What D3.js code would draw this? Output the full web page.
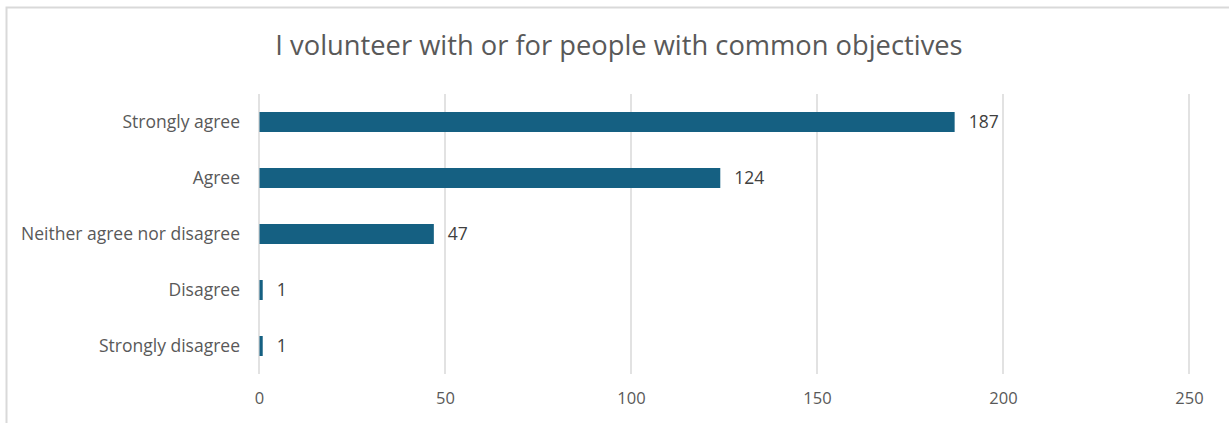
<!DOCTYPE html>
<html>
<head>
<meta charset="utf-8">
<script src="https://cdn.jsdelivr.net/npm/d3@7"></script>
<style>
  html, body { margin: 0; padding: 0; background: #fff; }
  svg { display: block; font-family: "Open Sans", "Noto Sans", sans-serif; }
</style>
</head>
<body>
<svg id="chart" width="1229" height="423"></svg>
<script>
const title = "I volunteer with or for people with common objectives";
const categories = ["Strongly agree", "Agree", "Neither agree nor disagree", "Disagree", "Strongly disagree"];
const counts = [187, 124, 47, 1, 1];
const tickValues = [0, 50, 100, 150, 200, 250];

const svg = d3.select("#chart");
const fontStack = "\"Open Sans\", \"Noto Sans\", sans-serif";

// chart frame (extends past the right and bottom edges)
svg.append("rect")
  .attr("x", 6.5).attr("y", 7.5)
  .attr("width", 1240).attr("height", 440)
  .attr("fill", "#fff").attr("stroke", "#d9d9d9").attr("stroke-width", 2);

svg.append("text")
  .attr("x", 619).attr("y", 55)
  .attr("text-anchor", "middle")
  .attr("font-size", 27.3)
  .attr("fill", "#595959")
  .text(title);

const x = d3.scaleLinear().domain([0, 250]).range([259, 1189]);
const y = d3.scaleBand().domain(categories).range([94, 374]).paddingInner(0.643).paddingOuter(0.3215);

// vertical gridlines
svg.append("g")
  .selectAll("line")
  .data(tickValues)
  .join("line")
  .attr("x1", d => x(d)).attr("x2", d => x(d))
  .attr("y1", 94).attr("y2", 374)
  .attr("stroke", "#d9d9d9").attr("stroke-width", 1.5);

// x axis labels
const xAxis = d3.axisBottom(x).tickValues(tickValues).tickSize(0).tickPadding(0);
const gx = svg.append("g").attr("transform", "translate(0,374)").call(xAxis);
gx.select(".domain").remove();
gx.selectAll("text")
  .attr("y", 30)
  .attr("dy", 0)
  .attr("font-size", 16.5)
  .attr("font-family", fontStack)
  .attr("fill", "#595959");

// category labels
const yAxis = d3.axisLeft(y).tickSize(0).tickPadding(19);
const gy = svg.append("g").attr("transform", "translate(259,0)").call(yAxis);
gy.select(".domain").remove();
gy.selectAll("text")
  .attr("font-size", 17.5)
  .attr("font-family", fontStack)
  .attr("fill", "#595959");

// bars
svg.append("g")
  .selectAll("rect")
  .data(categories)
  .join("rect")
  .attr("x", x(0) + 0.5)
  .attr("y", d => y(d))
  .attr("width", (d, i) => x(counts[i]) - x(0) - 0.5)
  .attr("height", y.bandwidth())
  .attr("fill", "#156082");

// value labels
svg.append("g")
  .selectAll("text")
  .data(categories)
  .join("text")
  .attr("x", (d, i) => x(counts[i]) + 14)
  .attr("y", d => y(d) + y.bandwidth() / 2)
  .attr("dy", "0.35em")
  .attr("font-size", 17.5)
  .attr("fill", "#404040")
  .text((d, i) => counts[i]);
</script>
</body>
</html>
